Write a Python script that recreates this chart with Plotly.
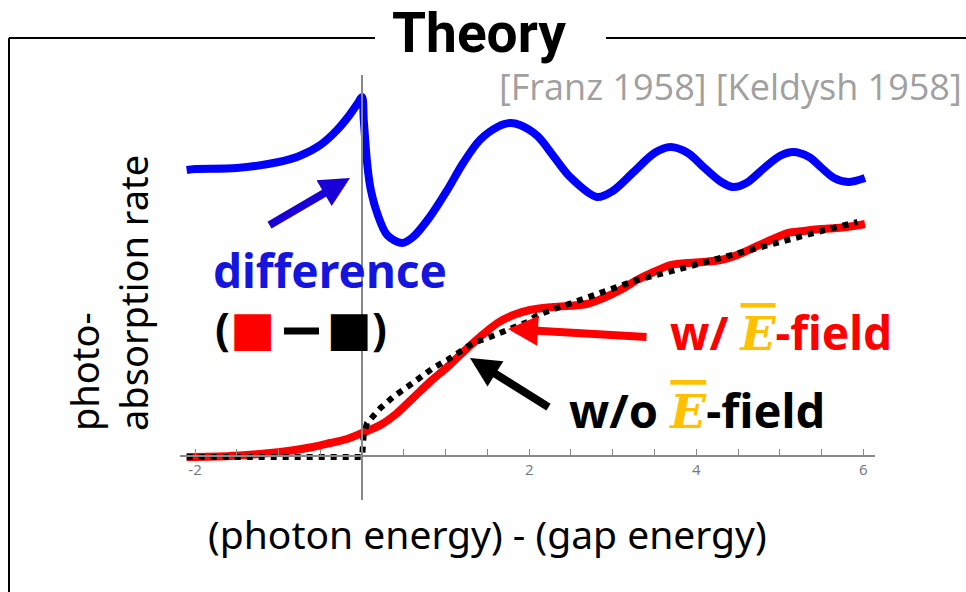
import plotly.graph_objects as go

# ---------------- data ----------------
diff_x = [-2.1, -2.0, -1.5, -1.0, -0.75, -0.5, -0.3, -0.15, -0.05, 0.0, 0.02, 0.06, 0.1, 0.18,
          0.3, 0.48, 0.61, 0.81, 1.02, 1.21, 1.41, 1.62, 1.77, 1.89, 2.1, 2.29, 2.49, 2.81,
          3.0, 3.25, 3.5, 3.69, 3.9, 4.1, 4.3, 4.44, 4.6, 4.8, 5.0, 5.16, 5.35, 5.49, 5.65,
          5.82, 6.02]
diff_y = [2.86, 2.87, 2.88, 2.94, 3.00, 3.11, 3.26, 3.41, 3.53, 3.59, 3.36, 2.93, 2.68, 2.43,
          2.21, 2.13, 2.19, 2.39, 2.66, 2.93, 3.16, 3.29, 3.33, 3.31, 3.20, 3.00, 2.79, 2.59,
          2.65, 2.84, 3.03, 3.09, 3.03, 2.88, 2.74, 2.69, 2.73, 2.87, 3.00, 3.04, 2.99, 2.89,
          2.78, 2.74, 2.78]

with_x = [-2.1, -1.58, -0.98, -0.59, -0.38, -0.18, 0.0, 0.22, 0.42, 0.61, 0.81, 1.02, 1.21,
          1.41, 1.62, 1.81, 2.01, 2.29, 2.69, 2.89, 3.09, 3.29, 3.49, 3.69, 3.89, 4.08, 4.29,
          4.49, 4.68, 4.89, 5.09, 5.28, 5.49, 5.69, 5.88, 6.02]
with_y = [-0.01, 0.0, 0.04, 0.09, 0.13, 0.17, 0.23, 0.31, 0.43, 0.58, 0.74, 0.89, 1.04,
          1.19, 1.33, 1.41, 1.46, 1.49, 1.52, 1.58, 1.66, 1.76, 1.84, 1.91, 1.93, 1.94, 1.96,
          2.01, 2.08, 2.16, 2.23, 2.25, 2.27, 2.28, 2.30, 2.32]

without_x = [-2.1, -1.0, 0.0, 0.02, 0.06, 0.22, 0.37, 0.54, 0.69, 0.85, 1.02, 1.17, 1.33,
             1.50, 1.65, 1.81, 1.98, 2.10, 2.69, 3.29, 3.89, 4.49, 5.09, 5.69, 5.93]
without_y = [-0.01, -0.01, -0.01, 0.22, 0.33, 0.48, 0.59, 0.69, 0.79, 0.88, 0.96, 1.04, 1.13,
             1.18, 1.23, 1.28, 1.34, 1.41, 1.58, 1.76, 1.89, 2.03, 2.16, 2.29, 2.34]

tick_vals = [-2, 2, 4, 6]
tick_text = ["-2", "2", "4", "6"]
minor_vals = [-1.5, -1.0, -0.5, 0.5, 1.0, 1.5, 2.5, 3.0, 3.5, 4.5, 5.0, 5.5]

X_RANGE = [-2.18, 6.14]
Y_RANGE = [-0.44, 3.81]

# ---------------- layout geometry ----------------
W, H = 966, 592
L, R, T, B = 180, 875, 75, 500


def px(x):
    return (x - L) / (R - L)


def py(y):
    return (B - y) / (B - T)


fig = go.Figure()
fig.add_trace(go.Scatter(x=with_x, y=with_y, mode="lines",
                         line=dict(color="#ff0000", width=8, shape="spline", smoothing=0.8)))
fig.add_trace(go.Scatter(x=without_x, y=without_y, mode="lines",
                         line=dict(color="#000000", width=6, dash="dot")))
fig.add_trace(go.Scatter(x=diff_x, y=diff_y, mode="lines",
                         line=dict(color="#0000ff", width=8, shape="spline", smoothing=0.9)))

font_main = "Noto Sans, Open Sans, sans-serif"
E_html = ('<span style="font-family:DejaVu Serif;font-style:italic;color:#ffc000;'
          'text-decoration:overline">E</span>')
SQ = '<span style="font-family:DejaVu Sans;font-size:48px;color:{}">■</span>'
paren_html = ('<b>(' + SQ.format("#ff0000")
              + '\u2003\u2009'
              + SQ.format("#000000") + ')</b>')

annotations = [
    dict(text="<b>Theory</b>", x=px(479), y=py(33), font=dict(size=55, color="black", family="Roboto")),
    dict(text="[Franz 1958] [Keldysh 1958]", x=px(964), y=py(87), xanchor="right",
         font=dict(size=36, color="#a0a0a0", family="Open Sans")),
    dict(text="photo-<br>absorption rate", textangle=-90, align="left", x=px(108), y=py(433),
         yanchor="bottom", font=dict(size=38, color="black", family=font_main)),
    dict(text="(photon energy) - (gap energy)", x=px(487), y=py(533),
         font=dict(size=39, color="black", family=font_main)),
    dict(text="<b>difference</b>", x=px(330), y=py(270),
         font=dict(size=46, color="#1515e0", family=font_main)),
    dict(text=paren_html, x=px(301), y=py(328),
         font=dict(size=44, color="black", family=font_main)),
    dict(text="<b>w/ " + E_html + "-field</b>", x=px(781), y=py(332),
         font=dict(size=46, color="#ff0000", family=font_main)),
    dict(text="<b>w/o " + E_html + "-field</b>", x=px(697), y=py(410),
         font=dict(size=47, color="black", family=font_main)),
]
# arrows: head position, tail offset in pixels
arrows = [((350, 178), (-82, 48), "#1a00d8"),
          ((508, 329), (140, 8), "#ff0000"),
          ((470, 358), (80, 50), "#000000")]
for (hx, hy), (ax, ay), col in arrows:
    annotations.append(dict(text="", x=px(hx), y=py(hy), ax=ax, ay=ay, showarrow=True,
                            arrowhead=2, arrowsize=0.75, arrowwidth=8, arrowcolor=col,
                            standoff=0))
for a in annotations:
    a.setdefault("xref", "paper")
    a.setdefault("yref", "paper")
    a.setdefault("showarrow", False)
    a.setdefault("xanchor", "center")
    a.setdefault("yanchor", "middle")

shapes = [
    dict(type="line", xref="paper", yref="paper", x0=px(9), x1=px(375), y0=py(38), y1=py(38),
         line=dict(color="black", width=2)),
    dict(type="line", xref="paper", yref="paper", x0=px(606), x1=px(966), y0=py(38), y1=py(38),
         line=dict(color="black", width=2)),
    dict(type="line", xref="paper", yref="paper", x0=px(9), x1=px(9), y0=py(38), y1=py(592),
         line=dict(color="black", width=2)),
    # the minus sign between the two colour squares
    dict(type="line", xref="paper", yref="paper", x0=px(284), x1=px(319), y0=py(331), y1=py(331),
         line=dict(color="black", width=7)),
]

fig.update_layout(
    width=W, height=H, margin=dict(l=L, r=W - R, t=T, b=H - B),
    paper_bgcolor="white", plot_bgcolor="white", showlegend=False,
    annotations=annotations, shapes=shapes,
    xaxis=dict(range=X_RANGE, anchor="free",
               position=(0 - Y_RANGE[0]) / (Y_RANGE[1] - Y_RANGE[0]),
               showline=True, linecolor="#888888", linewidth=1.5, showgrid=False, zeroline=False,
               ticks="inside", ticklen=6, tickcolor="#888888", tickwidth=1.2,
               tickmode="array", tickvals=tick_vals, ticktext=tick_text,
               tickfont=dict(size=15, color="#6f7680", family="Open Sans"),
               minor=dict(tickmode="array", tickvals=minor_vals, ticks="inside", ticklen=6,
                          tickcolor="#888888", tickwidth=1.2, showgrid=False)),
    yaxis=dict(range=Y_RANGE, anchor="free",
               position=(0 - X_RANGE[0]) / (X_RANGE[1] - X_RANGE[0]),
               showline=True, linecolor="#888888", linewidth=1.5, showgrid=False, zeroline=False,
               ticks="", showticklabels=False),
)

fig.write_html("out.html")
